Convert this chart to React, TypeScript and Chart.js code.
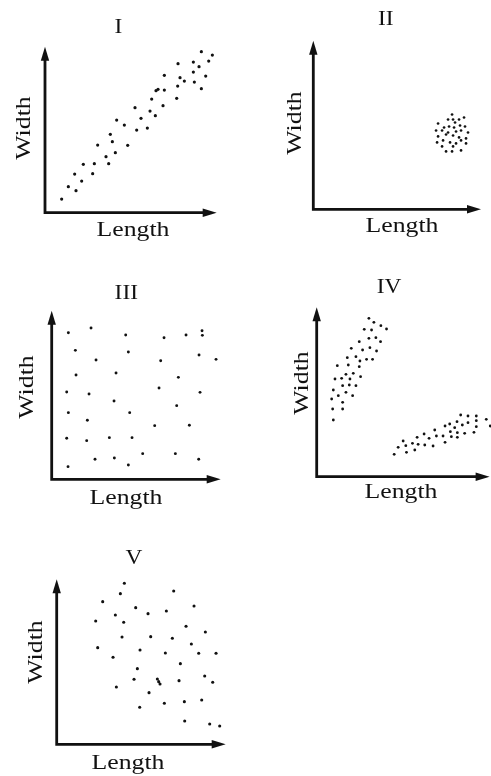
import React, { useEffect, useRef } from "react";
import { Chart, registerables } from "chart.js";

Chart.register(...registerables);

// ---------- data (units: offsets from each panel's origin) ----------
const panelTitles = ["I", "II", "III", "IV", "V"];
const xAxisLabel = "Length";
const yAxisLabel = "Width";

const axisMaxI = [515, 498];
const lengthI = [50, 70, 93, 89, 110, 115, 143, 148, 158, 183, 191, 196, 202, 211, 215, 238, 248, 270, 275, 288, 307, 315, 320, 331, 333, 339, 354, 358, 358, 395, 398, 399, 405, 418, 445, 445, 448, 462, 469, 469, 482, 491, 502, 535];
const widthI = [41, 78, 66, 116, 95, 145, 117, 147, 203, 168, 147, 235, 213, 180, 278, 263, 202, 315, 248, 283, 254, 305, 341, 291, 366, 370, 321, 368, 412, 343, 380, 447, 405, 395, 452, 422, 392, 438, 483, 372, 410, 455, 473, 439];

const axisMaxII = [168, 169];
const lengthII = [139, 135, 140, 146, 151, 125, 136, 142, 147, 152, 131, 141, 123, 129, 135, 143, 148, 155, 133, 140, 146, 125, 153, 130, 137, 143, 148, 124, 153, 129, 140, 133, 139, 148];
const widthII = [95, 90, 90, 90, 92, 86, 83, 87, 84, 83, 82, 82, 79, 79, 77, 78, 79, 77, 75, 74, 72, 73, 71, 69, 67, 66, 69, 67, 66, 63, 63, 58, 58, 59];

const axisMaxIII = [507, 506];
const lengthIII = [50, 118, 222, 337, 403, 451, 452, 71, 133, 230, 327, 442, 493, 73, 193, 380, 45, 112, 187, 322, 445, 50, 107, 234, 309, 375, 413, 45, 105, 173, 241, 130, 188, 273, 371, 441, 49, 230];
const widthIII = [440, 454, 433, 425, 433, 446, 432, 387, 358, 382, 356, 373, 360, 313, 319, 306, 262, 256, 235, 274, 261, 200, 177, 200, 161, 221, 162, 123, 116, 125, 125, 60, 64, 77, 77, 60, 38, 43];

const axisMaxIV = [520, 508];
const lengthIVa = [157, 172, 193, 210, 143, 165, 128, 157, 178, 192, 104, 138, 160, 180, 92, 118, 130, 150, 168, 62, 95, 128, 110, 88, 132, 55, 75, 100, 78, 98, 118, 50, 65, 88, 108, 45, 78, 48, 78, 50];
const widthIVa = [475, 463, 453, 443, 442, 440, 405, 415, 417, 405, 385, 380, 387, 377, 357, 360, 347, 352, 352, 333, 335, 330, 310, 307, 300, 293, 295, 293, 273, 275, 273, 260, 243, 253, 243, 233, 223, 203, 203, 170];
const lengthIVb = [233, 245, 260, 268, 270, 288, 295, 302, 305, 323, 325, 338, 350, 355, 360, 380, 386, 386, 400, 402, 405, 415, 422, 423, 423, 433, 438, 445, 455, 455, 473, 480, 480, 480, 510, 522];
const widthIVb = [67, 88, 107, 93, 73, 100, 80, 118, 97, 128, 95, 115, 92, 140, 122, 122, 152, 103, 158, 135, 120, 147, 165, 132, 118, 185, 155, 130, 182, 162, 133, 182, 168, 150, 172, 152];

const axisMaxV = [507, 495];
const lengthV = [118, 203, 191, 351, 138, 237, 274, 329, 412, 176, 117, 201, 388, 196, 282, 347, 446, 123, 250, 404, 326, 426, 478, 169, 371, 242, 232, 302, 306, 310, 367, 444, 468, 179, 277, 249, 323, 383, 435, 384, 459, 489];
const widthV = [500, 483, 452, 460, 428, 410, 392, 400, 415, 388, 370, 366, 354, 322, 323, 318, 337, 290, 283, 301, 274, 273, 273, 261, 242, 227, 195, 196, 188, 181, 191, 205, 186, 172, 155, 111, 123, 128, 133, 70, 61, 55];

type Geo = {
  box: { x: number; y: number; w: number; h: number };
  ox: number; oy: number; tipX: number; tipY: number;
  title: [number, number];
  widthLbl: [number, number];
  lengthLbl: [number, number];
  dot: number;
};

const geos: Geo[] = [
  { box: { x: 0, y: 0, w: 245, h: 255 }, ox: 45, oy: 212.7, tipX: 216.7, tipY: 46.7, title: [118.3, 33], widthLbl: [30, 128], lengthLbl: [133, 236], dot: 1.6 },
  { box: { x: 245, y: 0, w: 246, h: 255 }, ox: 313.3, oy: 209.3, tipX: 481, tipY: 40.7, title: [385.7, 25], widthLbl: [301, 123], lengthLbl: [402, 232], dot: 1.35 },
  { box: { x: 0, y: 262, w: 245, h: 255 }, ox: 51.7, oy: 479.3, tipX: 220.7, tipY: 310.7, title: [126.3, 299], widthLbl: [33.3, 387], lengthLbl: [126, 504], dot: 1.45 },
  { box: { x: 245, y: 262, w: 246, h: 255 }, ox: 316.7, oy: 476.7, tipX: 490, tipY: 307.3, title: [389, 293], widthLbl: [308.3, 383], lengthLbl: [401, 498], dot: 1.4 },
  { box: { x: 0, y: 525, w: 245, h: 251 }, ox: 56.7, oy: 744.3, tipX: 225.7, tipY: 579.3, title: [134, 564], widthLbl: [41.7, 652], lengthLbl: [128, 769], dot: 1.55 },
];

const toPts = (xs: number[], ys: number[]) => xs.map((x, i) => ({ x, y: ys[i] }));

const panelData = [
  { max: axisMaxI, series: [toPts(lengthI, widthI)] },
  { max: axisMaxII, series: [toPts(lengthII, widthII)] },
  { max: axisMaxIII, series: [toPts(lengthIII, widthIII)] },
  { max: axisMaxIV, series: [toPts(lengthIVa, widthIVa), toPts(lengthIVb, widthIVb)] },
  { max: axisMaxV, series: [toPts(lengthV, widthV)] },
];

const INK = "#111111";
const FONT = '"Liberation Serif", "Times New Roman", serif';
const STRETCH = 1.17;

function Panel({ idx }: { idx: number }) {
  const ref = useRef<HTMLCanvasElement | null>(null);
  const g = geos[idx];
  useEffect(() => {
    const canvas = ref.current;
    if (!canvas) return;
    const bx = g.box.x, by = g.box.y;
    const decor = {
      id: "decor" + idx,
      afterDraw(chart: any) {
        const ctx = chart.ctx as CanvasRenderingContext2D;
        const xs = chart.scales.x, ys = chart.scales.y;
        const x0 = xs.getPixelForValue(0), y0 = ys.getPixelForValue(0);
        const x1 = xs.getPixelForValue(panelData[idx].max[0]);
        const y1 = ys.getPixelForValue(panelData[idx].max[1]);
        ctx.save();
        ctx.strokeStyle = INK;
        ctx.fillStyle = INK;
        ctx.lineWidth = 2.8;
        ctx.lineJoin = "miter";
        ctx.beginPath();
        ctx.moveTo(x0, y1 + 10);
        ctx.lineTo(x0, y0);
        ctx.lineTo(x1 - 10, y0);
        ctx.stroke();
        // arrowheads
        ctx.beginPath();
        ctx.moveTo(x0, y1);
        ctx.lineTo(x0 - 4.2, y1 + 14);
        ctx.lineTo(x0 + 4.2, y1 + 14);
        ctx.closePath();
        ctx.fill();
        ctx.beginPath();
        ctx.moveTo(x1, y0);
        ctx.lineTo(x1 - 14, y0 - 4.2);
        ctx.lineTo(x1 - 14, y0 + 4.2);
        ctx.closePath();
        ctx.fill();
        // texts
        ctx.textAlign = "center";
        ctx.textBaseline = "alphabetic";
        ctx.font = "20px " + FONT;
        ctx.save();
        ctx.translate(g.title[0] - bx, g.title[1] - by);
        ctx.scale(STRETCH, 1);
        ctx.fillText(panelTitles[idx], 0, 0);
        ctx.restore();
        ctx.font = "22px " + FONT;
        ctx.save();
        ctx.translate(g.lengthLbl[0] - bx, g.lengthLbl[1] - by);
        ctx.scale(STRETCH, 1);
        ctx.fillText(xAxisLabel, 0, 0);
        ctx.restore();
        ctx.save();
        ctx.translate(g.widthLbl[0] - bx, g.widthLbl[1] - by);
        ctx.rotate(-Math.PI / 2);
        ctx.scale(STRETCH, 1);
        ctx.fillText(yAxisLabel, 0, 0);
        ctx.restore();
        ctx.restore();
      },
    };
    const chart = new Chart(canvas, {
      type: "scatter",
      data: {
        datasets: panelData[idx].series.map((pts) => ({
          data: pts,
          backgroundColor: INK,
          borderWidth: 0,
          pointRadius: g.dot,
          pointHoverRadius: g.dot,
          clip: false as any,
        })),
      },
      options: {
        responsive: false,
        animation: false,
        events: [],
        devicePixelRatio: 1,
        layout: {
          padding: {
            left: g.ox - bx,
            right: bx + g.box.w - g.tipX,
            top: g.tipY - by,
            bottom: by + g.box.h - g.oy,
          },
        },
        plugins: { legend: { display: false }, tooltip: { enabled: false }, title: { display: false } },
        scales: {
          x: { type: "linear", display: false, min: 0, max: panelData[idx].max[0] },
          y: { type: "linear", display: false, min: 0, max: panelData[idx].max[1] },
        },
      },
      plugins: [decor],
    });
    return () => chart.destroy();
  }, [idx]);
  return (
    <canvas
      ref={ref}
      width={g.box.w}
      height={g.box.h}
      style={{ position: "absolute", left: g.box.x, top: g.box.y, width: g.box.w, height: g.box.h }}
    />
  );
}

export default function App() {
  return (
    <div style={{ position: "absolute", left: 0, top: 0, width: 491, height: 776, background: "#fff", overflow: "hidden" }}>
      {geos.map((_, i) => (
        <Panel key={i} idx={i} />
      ))}
    </div>
  );
}
